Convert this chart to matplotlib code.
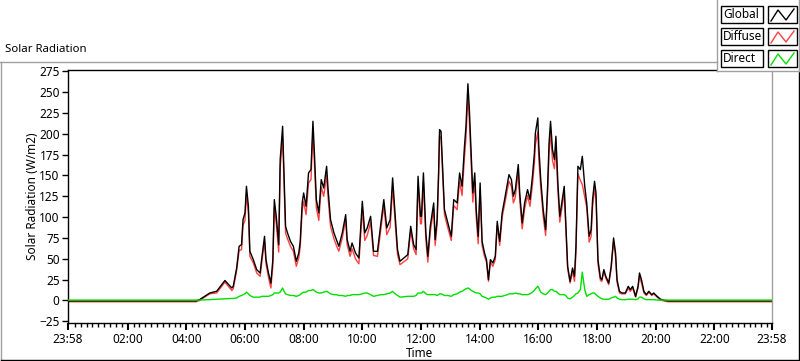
import numpy as np
import matplotlib as mpl
mpl.use('Agg')
import matplotlib.pyplot as plt
from matplotlib.patches import Rectangle
from matplotlib.ticker import FixedLocator

plt.rcParams['font.family'] = ['Noto Sans', 'DejaVu Sans']
plt.rcParams['font.size'] = 8.5

# time in minutes after midnight (start and end at 23:58)
minutes = [-2, 260, 267, 288, 302, 319, 333, 336, 343, 348, 353, 356, 360, 363, 367,
           370, 377, 384, 391, 394, 400, 403, 408, 413, 417, 420, 424, 426, 429, 432,
           437, 440, 443, 447, 453, 459, 465, 470, 473, 477, 480, 485, 490, 495, 499,
           502, 506, 511, 516, 521, 527, 530, 535, 542, 547, 552, 559, 566, 569, 575,
           579, 586, 593, 600, 605, 610, 617, 623, 631, 638, 644, 650, 657, 662, 665,
           672, 677, 693, 699, 705, 710, 714, 719, 721, 725, 730, 734, 739, 746, 749,
           753, 756, 758, 761, 765, 768, 775, 782, 787, 794, 799, 804, 809, 812, 816,
           819, 823, 826, 830, 833, 837, 841, 845, 850, 854, 858, 862, 867, 872, 876,
           881, 886, 891, 897, 900, 905, 909, 913, 919, 922, 927, 932, 938, 943, 948,
           952, 954, 959, 961, 965, 970, 975, 979, 982, 985, 989, 993, 996, 1000, 1004,
           1009, 1013, 1016, 1020, 1025, 1030, 1034, 1037, 1041, 1046, 1050, 1055, 1059, 1064, 1068,
           1071, 1075, 1078, 1082, 1087, 1090, 1094, 1098, 1104, 1109, 1114, 1118, 1121, 1126, 1131,
           1138, 1144, 1148, 1153, 1159, 1164, 1167, 1171, 1176, 1181, 1186, 1192, 1196, 1203, 1210,
           1220, 1226, 1438]

global_rad = [-0.5, -0.5, 1, 9, 11, 24, 15, 17, 39, 65, 67, 97, 105, 137, 113,
              59, 49, 37, 33, 49, 77, 49, 33, 21, 49, 121, 101, 87, 67, 169,
              209, 149, 89, 81, 71, 65, 47, 57, 71, 117, 129, 113, 153, 157, 215,
              177, 121, 105, 145, 135, 161, 133, 97, 81, 73, 65, 81, 103, 73, 59,
              69, 57, 51, 119, 81, 87, 101, 59, 59, 93, 121, 87, 97, 147, 121,
              61, 47, 55, 89, 67, 61, 149, 101, 101, 153, 81, 53, 89, 117, 73,
              97, 153, 205, 203, 149, 109, 93, 77, 121, 117, 153, 137, 185, 209, 260,
              229, 173, 129, 153, 109, 77, 141, 71, 57, 49, 25, 49, 45, 53, 95,
              71, 105, 121, 141, 151, 145, 125, 133, 163, 129, 93, 117, 133, 121, 149,
              177, 201, 219, 185, 145, 109, 85, 137, 189, 215, 181, 169, 197, 141, 101,
              121, 137, 97, 41, 23, 39, 29, 65, 161, 157, 173, 137, 117, 77, 85,
              121, 143, 129, 49, 27, 25, 37, 29, 21, 41, 75, 57, 25, 11, 9,
              9, 17, 13, 17, 5, 17, 33, 25, 11, 7, 11, 7, 9, 5, 1.5,
              0, -0.5, -0.5]

diffuse_rad = [-1.5, -1.5, 0, 8, 9, 22, 12, 14, 36, 60, 61, 90, 96, 127, 105,
               53, 45, 33, 29, 44, 71, 44, 28, 15, 42, 112, 92, 78, 58, 159,
               195, 138, 81, 74, 65, 59, 41, 51, 64, 108, 119, 103, 141, 145, 202,
               165, 111, 96, 136, 125, 150, 123, 89, 74, 66, 59, 75, 97, 67, 53,
               62, 50, 44, 110, 72, 78, 94, 54, 53, 86, 114, 79, 88, 136, 112,
               55, 43, 50, 84, 62, 55, 140, 92, 92, 142, 73, 46, 82, 110, 66,
               91, 146, 197, 195, 142, 103, 87, 72, 114, 109, 143, 126, 172, 195, 245,
               215, 161, 118, 143, 100, 68, 133, 66, 53, 46, 23, 46, 41, 49, 90,
               66, 100, 115, 134, 143, 137, 117, 124, 155, 121, 86, 110, 126, 113, 139,
               165, 187, 202, 170, 135, 101, 78, 128, 178, 202, 168, 158, 186, 132, 94,
               114, 130, 91, 38, 21, 35, 23, 57, 152, 144, 139, 124, 112, 70, 77,
               112, 134, 122, 44, 24, 23, 35, 27, 19, 38, 71, 52, 22, 9, 8,
               8, 15, 11, 15, 4, 15, 29, 21, 9, 6, 10, 6, 8, 4, 0.5,
               -1, -1.5, -1.5]

direct_rad = [0.5, 0.5, 0.5, 1, 1.5, 2, 2.5, 2.5, 3, 5, 6, 7, 8, 10, 8,
              6, 4, 4, 4, 5, 5, 5, 5, 6, 7, 9, 9, 9, 9, 10,
              15, 11, 8, 7, 6, 6, 5, 6, 7, 9, 10, 10, 12, 12, 13,
              12, 10, 9, 9, 10, 11, 10, 8, 7, 7, 6, 6, 5, 6, 6,
              7, 7, 7, 8, 9, 9, 7, 5, 6, 7, 7, 8, 9, 11, 9,
              6, 4, 5, 5, 5, 6, 9, 9, 9, 11, 8, 7, 7, 7, 7,
              6, 7, 8, 8, 7, 6, 6, 5, 7, 8, 10, 11, 13, 14, 15,
              14, 12, 11, 10, 9, 9, 8, 5, 4, 3, 1.5, 3, 4, 4, 5,
              5, 5, 6, 7, 8, 8, 8, 9, 8, 8, 7, 7, 7, 8, 10,
              12, 14, 17, 15, 10, 8, 7, 9, 11, 13, 13, 11, 11, 9, 7,
              7, 7, 6, 3, 2, 4, 6, 8, 9, 13, 34, 13, 5, 7, 8,
              9, 9, 7, 5, 3, 2, 1.5, 1.5, 1.5, 3, 4, 5, 3, 1.5, 1,
              1, 1.5, 1.5, 1.5, 1, 2, 4, 4, 2, 1, 1, 1, 1, 0.5, 0.5,
              0.5, 0.5, 0.5]

xtick_pos = [-2, 120, 240, 360, 480, 600, 720, 840, 960, 1080, 1200, 1320, 1438]
xtick_lab = ['23:58', '02:00', '04:00', '06:00', '08:00', '10:00', '12:00',
             '14:00', '16:00', '18:00', '20:00', '22:00', '23:58']
xminor_pos = [m for m in range(12, 1438, 12) if m % 120 != 0]
ytick_pos = list(range(-25, 276, 25))

series_names = ['Global', 'Diffuse', 'Direct']
series_colors = ['black', '#ff4040', '#00e000']

W, H = 800, 361
fig = plt.figure(figsize=(W / 100, H / 100), dpi=100)
fig.patch.set_facecolor('white')

ax = fig.add_axes([68 / W, 1 - 323 / H, (772 - 68) / W, (323 - 70) / H])
ax.plot(minutes, diffuse_rad, color=series_colors[1], lw=1, zorder=2)
ax.plot(minutes, global_rad, color=series_colors[0], lw=1, zorder=3)
ax.plot(minutes, direct_rad, color=series_colors[2], lw=1, zorder=4)
ax.set_xlim(-2, 1438)
ax.set_ylim(-27, 276.5)

ax.xaxis.set_major_locator(FixedLocator(xtick_pos))
ax.xaxis.set_minor_locator(FixedLocator(xminor_pos))
ax.set_xticklabels(xtick_lab)
ax.set_yticks(ytick_pos)
ax.tick_params(axis='x', which='major', length=5, width=1.5, pad=2, labelsize=8.5)
ax.tick_params(axis='x', which='minor', length=3, width=1)
ax.tick_params(axis='y', which='major', length=4, width=1, pad=2, labelsize=8.5)
for s in ['left', 'bottom', 'top']:
    ax.spines[s].set_color('black')
    ax.spines[s].set_linewidth(1)
ax.spines['right'].set_color('#a0a0a0')
ax.spines['right'].set_linewidth(1)
ax.set_ylabel('Solar Radiation (W/m2)', fontsize=8.5, labelpad=0)
ax.set_xlabel('Time', fontsize=8.5, labelpad=1)

# overlay in pixel coordinates for the frame and the legend
ov = fig.add_axes([0, 0, 1, 1], zorder=5)
ov.set_xlim(0, W)
ov.set_ylim(H, 0)
ov.axis('off')
ov.patch.set_alpha(0)

ov.plot([1, 1], [62, 359.5], color='#a0a0a0', lw=1)
ov.plot([0, 717], [62, 62], color='#a0a0a0', lw=1)
ov.plot([1, 799], [359.5, 359.5], color='black', lw=1)
ov.plot([799, 799], [72, 359.5], color='black', lw=1)
ov.text(5, 50, 'Solar Radiation', ha='left', va='center', fontsize=8.2)

# legend panel
ov.add_patch(Rectangle((717, -1), 83, 72, facecolor='white', edgecolor='none'))
ov.plot([717, 717], [0, 71], color='#a0a0a0', lw=1)
ov.plot([717, 800], [71, 71], color='#a0a0a0', lw=1)
ov.plot([799, 799], [0, 71], color='#a0a0a0', lw=1)
row_tops = [6, 28, 50]
for name, col, top in zip(series_names, series_colors, row_tops):
    ov.add_patch(Rectangle((721, top), 42, 17, facecolor='white', edgecolor='black', lw=1))
    ov.text(723, top + 8.5, name, ha='left', va='center', fontsize=8.5)
    ov.add_patch(Rectangle((768, top), 29, 17, facecolor='white', edgecolor='black', lw=1))
    ov.plot([771, 778, 786, 794], [top + 15, top + 4, top + 14, top + 3], color=col, lw=1)

fig.savefig('out.png', dpi=100)
